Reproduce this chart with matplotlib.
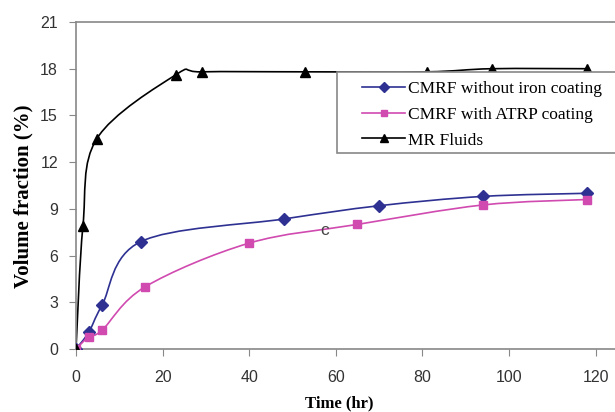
import numpy as np
import matplotlib.pyplot as plt
from matplotlib.path import Path
from matplotlib.patches import PathPatch, Rectangle

# data
t_blue = [0, 3, 6, 15, 48, 70, 94, 118]
v_blue = [0, 1.1, 2.8, 6.9, 8.35, 9.2, 9.8, 10.0]

t_pink = [0, 3, 6, 16, 40, 65, 94, 118]
v_pink = [0, 0.8, 1.2, 4.0, 6.8, 8.0, 9.25, 9.6]

t_mr = [0, 1.6, 4.8, 23, 29, 53, 81, 96, 118]
v_mr = [0, 7.9, 13.5, 17.6, 17.8, 17.8, 17.8, 18.0, 18.0]

x_ticks = [0, 20, 40, 60, 80, 100, 120]
y_ticks = [0, 3, 6, 9, 12, 15, 18, 21]


def smooth_path(xs, ys):
    # excel style smoothed line: cubic bezier through every point
    p = np.column_stack([xs, ys]).astype(float)
    verts = [p[0]]
    codes = [Path.MOVETO]
    n = len(p)
    for i in range(n - 1):
        p0 = p[i - 1] if i > 0 else p[i]
        p3 = p[i + 2] if i + 2 < n else p[i + 1]
        c1 = p[i] + (p[i + 1] - p0) / 6.0
        c2 = p[i + 1] - (p3 - p[i]) / 6.0
        verts += [c1, c2, p[i + 1]]
        codes += [Path.CURVE4] * 3
    return Path(verts, codes)


W, H = 615, 412
fig = plt.figure(figsize=(W / 100, H / 100), dpi=100)
ax = fig.add_axes([76 / W, 1 - 349 / H, 1 - 76 / W, 327 / H])

series = [
    (t_blue, v_blue, "#2E3192", "D", 6, "CMRF without iron coating"),
    (t_pink, v_pink, "#D04AB0", "s", 6, "CMRF with ATRP coating"),
    (t_mr, v_mr, "black", "^", 7, "MR Fluids"),
]

for xs, ys, col, mk, ms, lab in series:
    ax.add_patch(PathPatch(smooth_path(xs, ys), fill=False, edgecolor=col, lw=1.2, zorder=2))
    ax.plot(xs, ys, linestyle="none", marker=mk, markersize=ms, color=col, zorder=3)
    ax.plot([], [], color=col, lw=1.2, marker=mk, markersize=ms * 0.8, label=lab)

ax.text(57.5, 7.6, "c", color="#444444", fontsize=12.5, family="Liberation Sans",
        ha="center", va="center")

ax.set_xlim(0, 124.5)
ax.set_ylim(0, 21)
ax.set_xticks(x_ticks)
ax.set_yticks(y_ticks)

for s in ["left", "bottom", "top"]:
    ax.spines[s].set_color("#888888")
    ax.spines[s].set_linewidth(1.2)
ax.spines["right"].set_visible(False)

ax.tick_params(direction="out", length=5, color="#888888", labelsize=11.5,
               labelcolor="#333333")
ax.tick_params(axis="x", pad=10)
ax.tick_params(axis="y", pad=8)
for lbl in ax.get_xticklabels() + ax.get_yticklabels():
    lbl.set_family("Liberation Sans")

ax.set_xlabel("Time (hr)", family="Liberation Serif", fontweight="bold", fontsize=12, va="top")
ax.set_ylabel("Volume fraction (%)", family="Liberation Serif", fontweight="bold", fontsize=15)
ax.xaxis.set_label_coords(0.488, -0.141)
ax.yaxis.set_label_coords(-0.078, 0.468)

# legend box runs off the right edge like in the reference
box = Rectangle((337 / W, 1 - 153 / H), 300 / W, 81 / H, transform=fig.transFigure,
                facecolor="white", edgecolor="#888888", lw=1.2, clip_on=False, zorder=4)
ax.add_patch(box)

leg = ax.legend(loc="upper left", bbox_to_anchor=(362 / W, 1 - 81 / H),
                bbox_transform=fig.transFigure, prop={"family": "Liberation Serif", "size": 12.5},
                frameon=False, borderaxespad=0, borderpad=0,
                handlelength=2.5, handletextpad=0.15, labelspacing=0.55)
leg.set_zorder(5)

fig.savefig("out.png", dpi=100)
